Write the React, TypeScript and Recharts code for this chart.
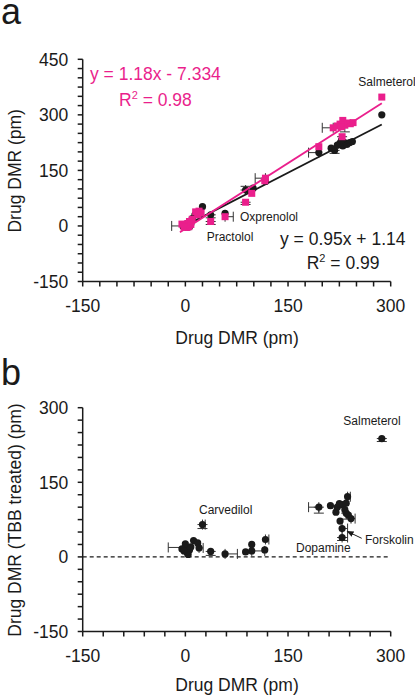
import React from 'react';
import { ScatterChart, Scatter, XAxis, YAxis, ErrorBar, ReferenceLine } from 'recharts';

const PINK = '#ea1f8c';
const INK = '#1a1a1a';
const FONT = '"Liberation Sans", Arial, Helvetica, sans-serif';

// ---- Panel a data: drug DMR (x) vs drug DMR in second condition (y)
const aBlack = [
  { x: 287, y: 300 }, { x: 195, y: 198, ex: [15, 0] }, { x: 213, y: 210 }, { x: 218, y: 204, ey: [8, 0] },
  { x: 222, y: 218 }, { x: 226, y: 224 }, { x: 230, y: 216 }, { x: 232, y: 226 },
  { x: 236, y: 220 }, { x: 240, y: 225 }, { x: 244, y: 228 }, { x: 228, y: 231 },
  { x: 117, y: 120 }, { x: 99, y: 102 }, { x: 88, y: 97, ex: [0, 12], ey: [0, 10] },
  { x: 58, y: 34 }, { x: 37, y: 30, ey: [8, 0] }, { x: 25, y: 52 }, { x: 14, y: 30 },
  { x: 10, y: 20 }, { x: 5, y: 10 }, { x: 2, y: 5 }, { x: 0, y: 0, ex: [20, 0] },
  { x: -3, y: 2 }, { x: 3, y: -3 }, { x: 8, y: 5 }, { x: 6, y: -2 },
];
const aPink = [
  { x: 287, y: 348 }, { x: 216, y: 265, ex: [16, 0] }, { x: 222, y: 270 }, { x: 226, y: 275 },
  { x: 230, y: 285 }, { x: 233, y: 272, ey: [18, 0] }, { x: 237, y: 278 }, { x: 241, y: 276 },
  { x: 245, y: 279 }, { x: 228, y: 268 }, { x: 229, y: 241, ey: [14, 0] }, { x: 195, y: 214 },
  { x: 117, y: 129, ex: [15, 0] }, { x: 116, y: 122 }, { x: 97, y: 88 }, { x: 88, y: 64, ey: [6, 0] },
  { x: 58, y: 25, ex: [0, 12] }, { x: 37, y: 12, ey: [8, 0] }, { x: 15, y: 38 }, { x: 20, y: 40 },
  { x: 23, y: 35 }, { x: 18, y: 30 }, { x: 10, y: 18 }, { x: 6, y: 12 }, { x: 3, y: 6 },
  { x: -5, y: 5 }, { x: 0, y: 0 }, { x: 2, y: -4 }, { x: 5, y: -2 }, { x: 8, y: 4 }, { x: -2, y: -3 },
];
// regression lines as printed on the chart
const aBlackFit = { slope: 0.95, intercept: 1.14, from: -8, to: 287 };
const aPinkFit = { slope: 1.18, intercept: -7.334, from: -8, to: 287 };

// ---- Panel b data: drug DMR (x) vs drug DMR TBB treated (y)
const bPoints = [
  { x: 287, y: 238, ey: [6, 0] }, { x: 25, y: 65, ey: [8, 0], ex: [0, 4] }, { x: 195, y: 100, ex: [15, 0], ey: [12, 0] },
  { x: 212, y: 103 }, { x: 220, y: 90 }, { x: 222, y: 100 }, { x: 225, y: 107 }, { x: 230, y: 105 },
  { x: 235, y: 108 }, { x: 237, y: 121, ex: [0, 4] }, { x: 233, y: 95 }, { x: 235, y: 88, ey: [12, 0] },
  { x: 238, y: 84 }, { x: 242, y: 77, ex: [0, 6] }, { x: 226, y: 72 }, { x: 229, y: 57, ex: [0, 8] },
  { x: 229, y: 39, ex: [0, 8], ey: [6, 0] }, { x: 0, y: 19, ex: [25, 0] }, { x: 0, y: 26 }, { x: -5, y: 16 },
  { x: 2, y: 10 }, { x: 4, y: 5 }, { x: 6, y: 14 }, { x: 8, y: 20 }, { x: 12, y: 33 }, { x: 18, y: 28 },
  { x: 20, y: 18, ex: [0, 6] }, { x: 37, y: 11, ey: [8, 0] }, { x: 58, y: 6, ex: [0, 18] }, { x: 88, y: 10 },
  { x: 97, y: 25 }, { x: 97, y: 12, ex: [0, 19] }, { x: 116, y: 14 }, { x: 117, y: 35, ex: [0, 5] },
  { x: 3, y: 8 }, { x: -2, y: 12 },
];

// ---- Axis ticks
const xTicksA = [-150, -125, -100, -75, -50, -25, 0, 25, 50, 75, 100, 125, 150, 175, 200, 225, 250, 275, 300];
const yTicksA = [-150, -125, -100, -75, -50, -25, 0, 25, 50, 75, 100, 125, 150, 175, 200, 225, 250, 275, 300, 325, 350, 375, 400, 425, 450];
const xTicksB = [-150, -120, -90, -60, -30, 0, 30, 60, 90, 120, 150, 180, 210, 240, 270, 300];
const yTicksB = [-150, -125, -100, -75, -50, -25, 0, 25, 50, 75, 100, 125, 150, 175, 200, 225, 250, 275, 300];
const majorLabels = [-150, 0, 150, 300, 450];

const fmt = (v: number) => (majorLabels.includes(v) ? String(v) : '');

const fitPoints = (f: { slope: number; intercept: number; from: number; to: number }) => [
  { x: f.from, y: f.slope * f.from + f.intercept },
  { x: f.to, y: f.slope * f.to + f.intercept },
];

const Dot = (p: any) => <circle cx={p.cx} cy={p.cy} r={3.6} fill={INK} />;
const Sq = (p: any) => <rect x={p.cx - 3.5} y={p.cy - 3.5} width={7} height={7} fill={PINK} />;
const NoShape = () => null;

const tickStyle = { fontSize: 17.5, fill: INK, fontFamily: FONT };
const axisLine = { stroke: INK, strokeWidth: 1.5 };
const tickLine = { stroke: INK, strokeWidth: 1.5 };

export default function App() {
  return (
    <div style={{ position: 'fixed', left: 0, top: 0, width: 415, height: 696, background: '#fff', fontFamily: FONT }}>
      <div style={{ position: 'absolute', left: 0, top: 0 }}>
        <ScatterChart width={415} height={350} margin={{ top: 59.3, right: 24.3, bottom: 38.5, left: 0 }}>
          <XAxis type="number" dataKey="x" domain={[-150, 300]} ticks={xTicksA} tickFormatter={fmt}
            interval={0} height={30} tickSize={5} tickMargin={13.5} axisLine={axisLine} tickLine={tickLine} tick={tickStyle} allowDataOverflow />
          <YAxis type="number" dataKey="y" domain={[-150, 450]} ticks={yTicksA} tickFormatter={fmt}
            interval={0} width={82.7} tickSize={5} tickMargin={9.4} axisLine={axisLine} tickLine={tickLine} tick={tickStyle} allowDataOverflow />
          <Scatter data={aBlack} shape={Dot} isAnimationActive={false}>
            <ErrorBar dataKey="ex" direction="x" width={5} stroke="#333" strokeWidth={1} />
            <ErrorBar dataKey="ey" direction="y" width={5} stroke="#333" strokeWidth={1} />
          </Scatter>
          <Scatter data={fitPoints(aBlackFit)} line={{ stroke: INK, strokeWidth: 1.8 }} shape={NoShape} isAnimationActive={false} />
          <Scatter data={aPink} shape={Sq} isAnimationActive={false}>
            <ErrorBar dataKey="ex" direction="x" width={5} stroke="#333" strokeWidth={1} />
            <ErrorBar dataKey="ey" direction="y" width={5} stroke="#333" strokeWidth={1} />
          </Scatter>
          <Scatter data={fitPoints(aPinkFit)} line={{ stroke: PINK, strokeWidth: 1.8 }} shape={NoShape} isAnimationActive={false} />
        </ScatterChart>
      </div>
      <div style={{ position: 'absolute', left: 0, top: 350 }}>
        <ScatterChart width={415} height={346} margin={{ top: 57.7, right: 24.3, bottom: 34.5, left: 0 }}>
          <XAxis type="number" dataKey="x" domain={[-150, 300]} ticks={xTicksB} tickFormatter={fmt}
            interval={0} height={30} tickSize={5} tickMargin={13} axisLine={axisLine} tickLine={tickLine} tick={tickStyle} allowDataOverflow />
          <YAxis type="number" dataKey="y" domain={[-150, 300]} ticks={yTicksB} tickFormatter={fmt}
            interval={0} width={82.7} tickSize={5} tickMargin={9.4} axisLine={axisLine} tickLine={tickLine} tick={tickStyle} allowDataOverflow />
          <ReferenceLine y={0} stroke={INK} strokeWidth={1.2} strokeDasharray="4 3" />
          <Scatter data={bPoints} shape={Dot} isAnimationActive={false}>
            <ErrorBar dataKey="ex" direction="x" width={5} stroke="#333" strokeWidth={1} />
            <ErrorBar dataKey="ey" direction="y" width={5} stroke="#333" strokeWidth={1} />
          </Scatter>
        </ScatterChart>
      </div>
      <svg width={415} height={696} style={{ position: 'absolute', left: 0, top: 0, pointerEvents: 'none' }} fontFamily={FONT}>
        <defs>
          <marker id="arr" markerWidth="8" markerHeight="8" refX="6" refY="3" orient="auto">
            <path d="M0,0 L7,3 L0,6 z" fill={INK} />
          </marker>
        </defs>
        <text x={1} y={24} fontSize={36} fill={INK}>a</text>
        <text x={1} y={385} fontSize={36} fill={INK}>b</text>

        <text transform="translate(21,170.8) rotate(-90)" textAnchor="middle" fontSize={17.5} fill={INK}>Drug DMR (pm)</text>
        <text x={237} y={344} textAnchor="middle" fontSize={17.5} fill={INK}>Drug DMR (pm)</text>
        <text transform="translate(21,520) rotate(-90)" textAnchor="middle" fontSize={17.5} fill={INK}>Drug DMR (TBB treated) (pm)</text>
        <text x={237} y={691} textAnchor="middle" fontSize={17.5} fill={INK}>Drug DMR (pm)</text>

        <text x={90} y={80} fontSize={17.5} fill={PINK}>y = 1.18x - 7.334</text>
        <text x={119} y={106} fontSize={17.5} fill={PINK}>R<tspan dy={-7} fontSize={11}>2</tspan><tspan dy={7}> = 0.98</tspan></text>
        <text x={280} y={245} fontSize={17.5} fill={INK}>y = 0.95x + 1.14</text>
        <text x={306.7} y={269.3} fontSize={17.5} fill={INK}>R<tspan dy={-7} fontSize={11}>2</tspan><tspan dy={7}> = 0.99</tspan></text>

        <text x={358.3} y={86} fontSize={12} fill={INK}>Salmeterol</text>
        <text x={240} y={220.7} fontSize={12} fill={INK}>Oxprenolol</text>
        <text x={206.7} y={240.7} fontSize={12} fill={INK}>Practolol</text>

        <text x={343.3} y={425} fontSize={12} fill={INK}>Salmeterol</text>
        <text x={199} y={514} fontSize={12} fill={INK}>Carvedilol</text>
        <text x={365} y={544} fontSize={12} fill={INK}>Forskolin</text>
        <text x={296} y={552.3} fontSize={12} fill={INK}>Dopamine</text>
        <line x1={361.7} y1={538.3} x2={347.5} y2={531.5} stroke={INK} strokeWidth={1} markerEnd="url(#arr)" />
      </svg>
    </div>
  );
}
